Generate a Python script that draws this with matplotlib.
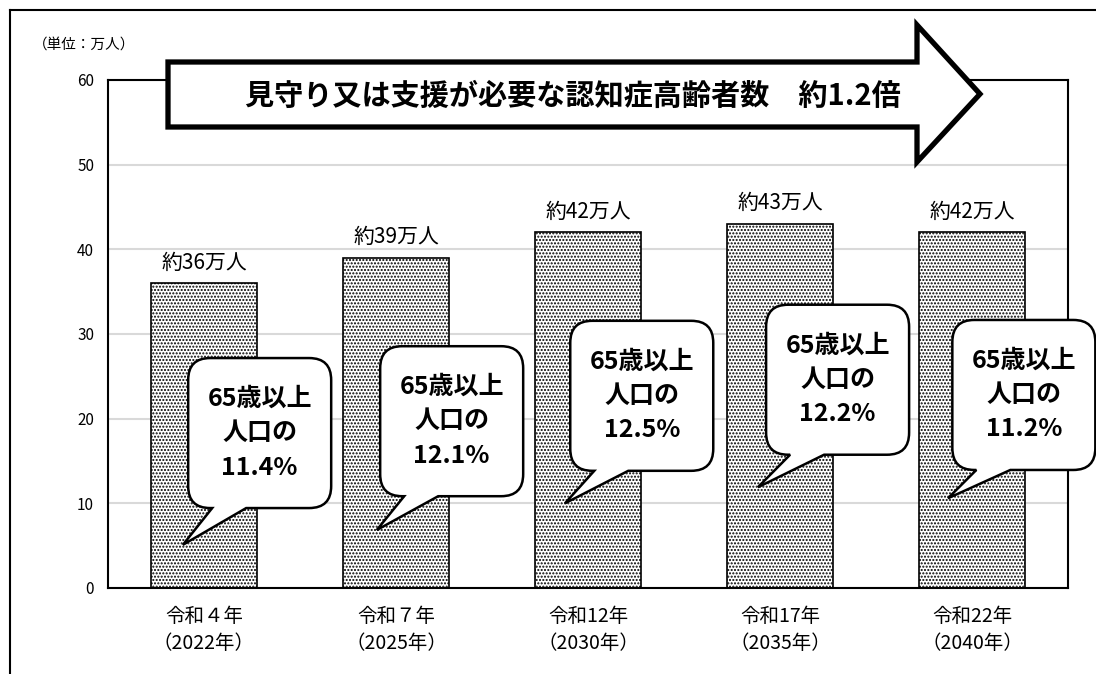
import matplotlib as mpl
mpl.use('Agg')
import matplotlib.pyplot as plt
import matplotlib.transforms as mtransforms
from matplotlib.path import Path
from matplotlib.patches import PathPatch, Polygon
from matplotlib.lines import Line2D
import numpy as np

plt.rcParams['font.family'] = ['Noto Sans CJK JP', 'DejaVu Sans']
plt.rcParams['hatch.linewidth'] = 1.0

# data
years_wa = ['令和４年', '令和７年', '令和12年', '令和17年', '令和22年']
years_ad = ['2022年', '2025年', '2030年', '2035年', '2040年']
counts = [36, 39, 42, 43, 42]          # 万人
shares = ['11.4%', '12.1%', '12.5%', '12.2%', '11.2%']
yticks = [0, 10, 20, 30, 40, 50, 60]
unit_label = '（単位：万人）'
title = '見守り又は支援が必要な認知症高齢者数　約1.2倍'

# speech bubble layout: offset from bar centre (categories) and height (data units)
bub_dx = [0.29, 0.29, 0.28, 0.30, 0.27]
bub_y = [18.3, 19.7, 22.7, 24.6, 22.8]
tip_dx = [-0.11, -0.10, -0.12, -0.115, -0.125]
tip_y = [5.1, 6.85, 10.0, 11.9, 10.6]

W, H = 1096, 674
fig = plt.figure(figsize=(W / 100, H / 100), dpi=100)
ax = fig.add_axes([108 / W, 1 - 588 / H, 960 / W, 508 / H])

x = np.arange(len(counts))
ax.bar(x, counts, width=0.55, color='white', edgecolor='black',
       linewidth=1.2, hatch='.....', zorder=2)
ax.set_xlim(-0.5, len(counts) - 0.5)
ax.set_ylim(0, 60)
ax.set_yticks(yticks)
ax.yaxis.grid(True, color='#d9d9d9', linewidth=1.5)
ax.set_axisbelow(True)
ax.tick_params(length=0)
ax.tick_params(axis='y', pad=10, labelsize=11)
ax.set_xticks(x)
ax.set_xticklabels([f'{a}\n（{b}）' for a, b in zip(years_wa, years_ad)],
                   fontsize=14, linespacing=1.35)
ax.tick_params(axis='x', pad=13)
for s in ax.spines.values():
    s.set_linewidth(1.5)
    s.set_color('black')

for xi, c in zip(x, counts):
    ax.annotate(f'約{c}万人', (xi, c), xytext=(0, 7), textcoords='offset points',
                ha='center', va='bottom', fontsize=15)

ident = mtransforms.IdentityTransform()


def px(xp, yp):
    # pixel from top-left -> display coords
    return (xp, H - yp)


# outer frame (cropped box)
fig.add_artist(Line2D([10 / W, 10 / W], [0, 1 - 10 / H], color='black', lw=1.5,
                      transform=fig.transFigure))
fig.add_artist(Line2D([10 / W, 1], [1 - 10 / H, 1 - 10 / H], color='black', lw=1.5,
                      transform=fig.transFigure))

fig.text(33 / W, 1 - 45 / H, unit_label, fontsize=10.5, ha='left', va='center')

# big block arrow with the title
arrow_pts = [px(168, 62), px(917, 62), px(917, 25), px(980, 94),
             px(917, 162), px(917, 127), px(168, 127)]
fig.add_artist(Polygon(arrow_pts, closed=True, facecolor='white', edgecolor='black',
                       linewidth=3.8, joinstyle='miter', transform=ident, zorder=3))
fig.text(573 / W, 1 - 96 / H, title, fontsize=21, fontweight='bold',
         ha='center', va='center', zorder=4)


def bubble_path(cx, cy, w, h, r, tx, ty, b0, b1):
    x0, x1 = cx - w / 2, cx + w / 2
    y0, y1 = cy - h / 2, cy + h / 2
    verts = [(x0 + r, y0), (x0 + b0, y0), (tx, ty), (x0 + b1, y0), (x1 - r, y0),
             (x1, y0), (x1, y0 + r), (x1, y1 - r), (x1, y1), (x1 - r, y1),
             (x0 + r, y1), (x0, y1), (x0, y1 - r), (x0, y0 + r), (x0, y0),
             (x0 + r, y0), (x0 + r, y0)]
    codes = [Path.MOVETO, Path.LINETO, Path.LINETO, Path.LINETO, Path.LINETO,
             Path.CURVE3, Path.CURVE3, Path.LINETO, Path.CURVE3, Path.CURVE3,
             Path.LINETO, Path.CURVE3, Path.CURVE3, Path.LINETO, Path.CURVE3,
             Path.CURVE3, Path.CLOSEPOLY]
    return Path(verts, codes)


for i, sh in enumerate(shares):
    cx, cy = ax.transData.transform((x[i] + bub_dx[i], bub_y[i]))
    tx, ty = ax.transData.transform((x[i] + tip_dx[i], tip_y[i]))
    path = bubble_path(cx, cy, 143, 150, 22, tx, ty, 24, 58)
    fig.add_artist(PathPatch(path, facecolor='white', edgecolor='black',
                             linewidth=1.8, transform=ident, zorder=3))
    fig.text(cx / W, cy / H, f'65歳以上\n人口の\n{sh}', fontsize=18,
             fontweight='bold', ha='center', va='center', linespacing=1.55,
             zorder=4)

fig.savefig('out.png', dpi=100)
